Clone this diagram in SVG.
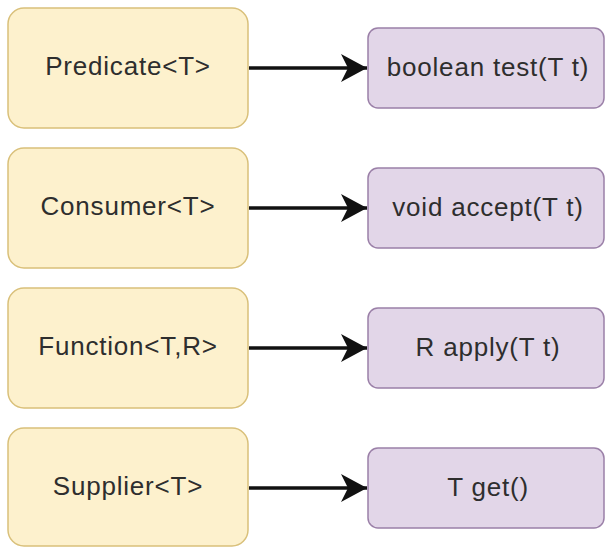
<svg xmlns="http://www.w3.org/2000/svg" width="605" height="547" viewBox="0 0 605 547">
  <style>
    .iface rect { fill: #fdf1cd; stroke: #d9c07a; stroke-width: 1.5; }
    .method rect { fill: #e2d6e8; stroke: #9b80a8; stroke-width: 1.5; }
    text { font-family: "Liberation Sans", Arial, sans-serif; font-size: 26px; letter-spacing: 0.8px; fill: #2e2e2e; text-anchor: middle; }
    .edge { stroke: #111; stroke-width: 3.5; fill: none; marker-end: url(#arrow); }
  </style>
  <defs>
    <marker id="arrow" markerUnits="userSpaceOnUse" markerWidth="28" markerHeight="30" refX="26" refY="14" orient="auto">
      <path d="M0,0 L26,14 L0,28 L7,14 Z" fill="#111"/>
    </marker>
  </defs>
  <rect width="605" height="547" fill="#fff"/>

  <g id="predicate" class="iface">
    <rect x="8" y="8" width="240" height="120" rx="16"/>
    <text x="128" y="75">Predicate&lt;T&gt;</text>
  </g>
  <g id="consumer" class="iface">
    <rect x="8" y="148" width="240" height="120" rx="16"/>
    <text x="128" y="215">Consumer&lt;T&gt;</text>
  </g>
  <g id="function" class="iface">
    <rect x="8" y="288" width="240" height="120" rx="16"/>
    <text x="128" y="355">Function&lt;T,R&gt;</text>
  </g>
  <g id="supplier" class="iface">
    <rect x="8" y="428" width="240" height="118" rx="16"/>
    <text x="128" y="495">Supplier&lt;T&gt;</text>
  </g>

  <g id="test" class="method">
    <rect x="368" y="28" width="236" height="80" rx="10"/>
    <text x="488" y="76">boolean test(T t)</text>
  </g>
  <g id="accept" class="method">
    <rect x="368" y="168" width="236" height="80" rx="10"/>
    <text x="488" y="216">void accept(T t)</text>
  </g>
  <g id="apply" class="method">
    <rect x="368" y="308" width="236" height="80" rx="10"/>
    <text x="488" y="356">R apply(T t)</text>
  </g>
  <g id="get" class="method">
    <rect x="368" y="448" width="236" height="80" rx="10"/>
    <text x="488" y="496">T get()</text>
  </g>

  <g id="connectors">
    <path class="edge" d="M249,68 L367,68"/>
    <path class="edge" d="M249,208 L367,208"/>
    <path class="edge" d="M249,348 L367,348"/>
    <path class="edge" d="M249,488 L367,488"/>
  </g>
</svg>
